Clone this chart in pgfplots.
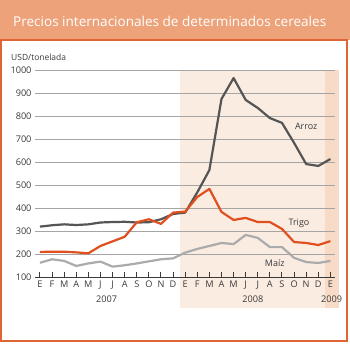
\documentclass[border=0pt]{standalone}
\usepackage{fontspec}
\setmainfont{Open Sans}
\usepackage{pgfplots}
\pgfplotsset{compat=1.18}
\definecolor{titlebg}{HTML}{EDA27A}
\definecolor{framec}{HTML}{DF6534}
\definecolor{shadeA}{HTML}{FBECE2}
\definecolor{shadeB}{HTML}{F8DBC7}
\definecolor{arroz}{HTML}{555555}
\definecolor{trigo}{HTML}{E0501E}
\definecolor{maiz}{HTML}{ABABAB}
\definecolor{txt}{HTML}{3A3A3A}
\definecolor{gridc}{HTML}{A5A5A5}
\begin{document}
\begin{tikzpicture}[x=1bp,y=1bp]
\useasboundingbox (0,0) rectangle (350,344);
\fill[white] (0,0) rectangle (350,344);
\fill[titlebg] (0,304) rectangle (350,344);
\node[anchor=west, text=white, font=\fontsize{13.6}{16}\selectfont, inner sep=0] at (13,323) {Precios internacionales de determinados cereales};
\draw[framec, line width=2bp] (1.5,3) rectangle (346.5,303.5);
\fill[shadeA] (180,36) rectangle (325,274);
\fill[shadeB] (325,36) rectangle (339,274);
\node[anchor=west, text=txt, font=\fontsize{8.5}{10}\selectfont, inner sep=0] at (11,287) {USD/tonelada};
\begin{axis}[
  at={(35bp,67bp)}, anchor=south west, scale only axis,
  width=300bp, height=207bp,
  xmin=-0.41, xmax=24.38, ymin=100, ymax=1000,
  axis x line*=bottom, axis y line*=left,
  y axis line style={draw=none},
  x axis line style={draw=txt, line width=1bp},
  xtick={0,...,24},
  xticklabels={E,F,M,A,M,J,J,A,S,O,N,D,E,F,M,A,M,J,J,A,S,O,N,D,E},
  ytick={100,200,...,1000},
  ymajorgrids, grid style={gridc, line width=0.8bp},
  ytick style={draw=none},
  xtick style={draw=txt, line width=1bp},
  major tick length=5bp, tick align=inside,
  ticklabel style={font=\fontsize{9.2}{11}\selectfont, text=txt},
  /pgf/number format/assume math mode=true,
  /pgf/number format/1000 sep={},
  clip=false,
  line join=round,
]
\addplot[arroz, line width=2.2bp] coordinates {
(0,319) (1,325) (2,329) (3,326) (4,329) (5,337) (6,339) (7,340) (8,337) (9,338) (10,351) (11,374)
(12,380) (13,468) (14,565) (15,874) (16,965) (17,870) (18,835) (19,791) (20,770) (21,683) (22,591) (23,583) (24,613)};
\addplot[maiz, line width=2.2bp] coordinates {
(0,162) (1,177) (2,170) (3,148) (4,159) (5,167) (6,145) (7,151) (8,159) (9,168) (10,177) (11,181)
(12,206) (13,222) (14,235) (15,248) (16,243) (17,283) (18,270) (19,230) (20,230) (21,183) (22,165) (23,161) (24,170)};
\addplot[trigo, line width=2.2bp] coordinates {
(0,209) (1,210) (2,210) (3,207) (4,203) (5,235) (6,255) (7,275) (8,338) (9,351) (10,331) (11,380)
(12,384) (13,448) (14,483) (15,383) (16,348) (17,357) (18,339) (19,339) (20,309) (21,252) (22,248) (23,239) (24,256)};
\node[text=txt, font=\fontsize{9}{11}\selectfont] at (axis cs:22,756) {Arroz};
\node[text=txt, font=\fontsize{9}{11}\selectfont] at (axis cs:21.4,335) {Trigo};
\node[text=txt, font=\fontsize{9}{11}\selectfont] at (axis cs:19.4,161) {Maíz};
\node[text=txt, font=\fontsize{9.2}{11}\selectfont] at ([yshift=-22bp]axis cs:5.5,100) {2007};
\node[text=txt, font=\fontsize{9.2}{11}\selectfont] at ([yshift=-22bp]axis cs:17.6,100) {2008};
\node[text=txt, font=\fontsize{9.2}{11}\selectfont] at ([yshift=-22bp]axis cs:24.1,100) {2009};
\end{axis}
\end{tikzpicture}
\end{document}
